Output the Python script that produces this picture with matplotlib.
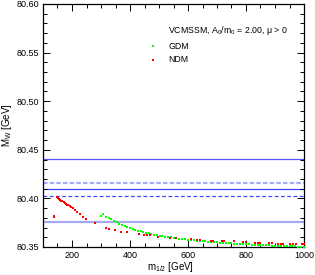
import matplotlib
matplotlib.use("Agg")
import matplotlib.pyplot as plt
from matplotlib.ticker import MultipleLocator

plt.rcParams['font.family'] = ['Liberation Sans', 'DejaVu Sans']
plt.rcParams['mathtext.fontset'] = 'custom'
plt.rcParams['mathtext.rm'] = 'Liberation Sans'
plt.rcParams['mathtext.it'] = 'Liberation Sans'

# GDM points (green)
gdm_m12 = [300, 308, 317, 326, 335, 345, 354, 363, 372, 382, 391, 400, 409, 418,
           428, 437, 446, 455, 465, 474, 483, 492, 502, 511, 520, 530, 540, 550,
           560, 570, 580, 590, 600, 610, 620, 630, 640, 650, 660, 670, 680, 690,
           700, 710, 720, 730, 740, 750, 760, 770, 780, 790, 800, 810, 820, 830,
           840, 850, 860, 870, 880, 890, 900, 910, 920, 930, 940, 950, 960, 970,
           980, 990, 1000]
gdm_mw = [80.3820, 80.3837, 80.3810, 80.3800, 80.3786, 80.3770, 80.3755, 80.3740,
          80.3727, 80.3713, 80.3703, 80.3693, 80.3682, 80.3675, 80.3668, 80.3660,
          80.3653, 80.3646, 80.3640, 80.3634, 80.3628, 80.3623, 80.3618, 80.3613,
          80.3608, 80.3603, 80.3598, 80.3594, 80.3590, 80.3586, 80.3582, 80.3578,
          80.3575, 80.3572, 80.3569, 80.3566, 80.3563, 80.3560, 80.3558, 80.3555,
          80.3553, 80.3550, 80.3548, 80.3546, 80.3544, 80.3542, 80.3540, 80.3538,
          80.3536, 80.3534, 80.3532, 80.3530, 80.3528, 80.3527, 80.3525, 80.3523,
          80.3522, 80.3520, 80.3519, 80.3517, 80.3516, 80.3515, 80.3513, 80.3512,
          80.3511, 80.3510, 80.3509, 80.3508, 80.3507, 80.3506, 80.3505, 80.3504,
          80.3503]

# NDM points (red)
ndm_m12 = [138, 138, 147, 151, 155, 159, 163, 167, 171, 175, 179, 183, 187, 192,
           197, 202, 209, 218, 228, 238, 248, 279, 317, 328, 349, 370, 388, 430,
           448, 457, 469, 498, 538, 559, 609, 630, 640, 679, 687, 716, 723, 759,
           791, 800, 831, 840, 848, 880, 889, 910, 919, 928, 952, 962, 972, 992,
           1000]
ndm_mw = [80.3820, 80.3812, 80.4010, 80.4002, 80.3995, 80.3986, 80.3978, 80.3970,
          80.3962, 80.3953, 80.3945, 80.3937, 80.3929, 80.3920, 80.3910, 80.3900,
          80.3880, 80.3860, 80.3835, 80.3810, 80.3790, 80.3745, 80.3700, 80.3690,
          80.3675, 80.3658, 80.3650, 80.3634, 80.3625, 80.3623, 80.3622, 80.3606,
          80.3593, 80.3590, 80.3580, 80.3572, 80.3572, 80.3566, 80.3565, 80.3562,
          80.3561, 80.3558, 80.3549, 80.3548, 80.3545, 80.3545, 80.3545, 80.3540,
          80.3540, 80.3534, 80.3534, 80.3534, 80.3532, 80.3532, 80.3532, 80.3530,
          80.3530]

# reference M_W lines
hline_vals = [80.441, 80.416, 80.410, 80.402, 80.376]
hline_colors = ['#5555ff', '#a8a8ff', '#4444ff', '#4444ff', '#a8a8f0']
hline_styles = ['-', (0, (2, 1)), '-', (0, (3, 2)), '-']
hline_widths = [0.9, 1.6, 0.9, 0.9, 1.6]

fig = plt.figure(figsize=(3.15, 2.75), dpi=100)
ax = fig.add_axes([43 / 315, 28 / 275, 261 / 315, 243 / 275])

for v, c, ls, lw in zip(hline_vals, hline_colors, hline_styles, hline_widths):
    ax.axhline(v, color=c, ls=ls, lw=lw, zorder=1)

ax.plot(gdm_m12, gdm_mw, 's', color='#00ff00', ms=2, mew=0, zorder=3)
ax.plot(ndm_m12, ndm_mw, 's', color='#ff0000', ms=2, mew=0, zorder=4)

ax.set_xlim(100, 1000)
ax.set_ylim(80.35, 80.60)
ax.xaxis.set_major_locator(MultipleLocator(200))
ax.xaxis.set_minor_locator(MultipleLocator(50))
ax.yaxis.set_major_locator(MultipleLocator(0.05))
ax.yaxis.set_minor_locator(MultipleLocator(0.01))
ax.yaxis.set_major_formatter(matplotlib.ticker.FormatStrFormatter('%.2f'))
ax.tick_params(which='both', direction='in', top=True, right=True,
               labelsize=6.5, width=0.7, pad=3)
ax.tick_params(which='major', length=5)
ax.tick_params(which='minor', length=3)
for s in ax.spines.values():
    s.set_linewidth(0.9)

ax.set_xlabel(r'm$_{1/2}$ [GeV]', fontsize=7)
ax.set_ylabel(r'M$_W$ [GeV]', fontsize=7)
ax.xaxis.set_label_coords(0.487, -0.052)
ax.yaxis.set_label_coords(-0.111, 0.5)

tr = ax.transAxes
ax.text(0.479, 0.893, r'VCMSSM, A$_0$/m$_0$ = 2.00, $\mu$ > 0', fontsize=6.3,
        transform=tr, va='center')
# legend
ax.plot([0.421], [0.826], 's', color='#00ff00', ms=2, mew=0, transform=tr, clip_on=False)
ax.plot([0.421], [0.771], 's', color='#ff0000', ms=2, mew=0, transform=tr, clip_on=False)
ax.text(0.479, 0.826, 'GDM', fontsize=6.3, transform=tr, va='center')
ax.text(0.479, 0.771, 'NDM', fontsize=6.3, transform=tr, va='center')

fig.savefig('out.png', dpi=100)
